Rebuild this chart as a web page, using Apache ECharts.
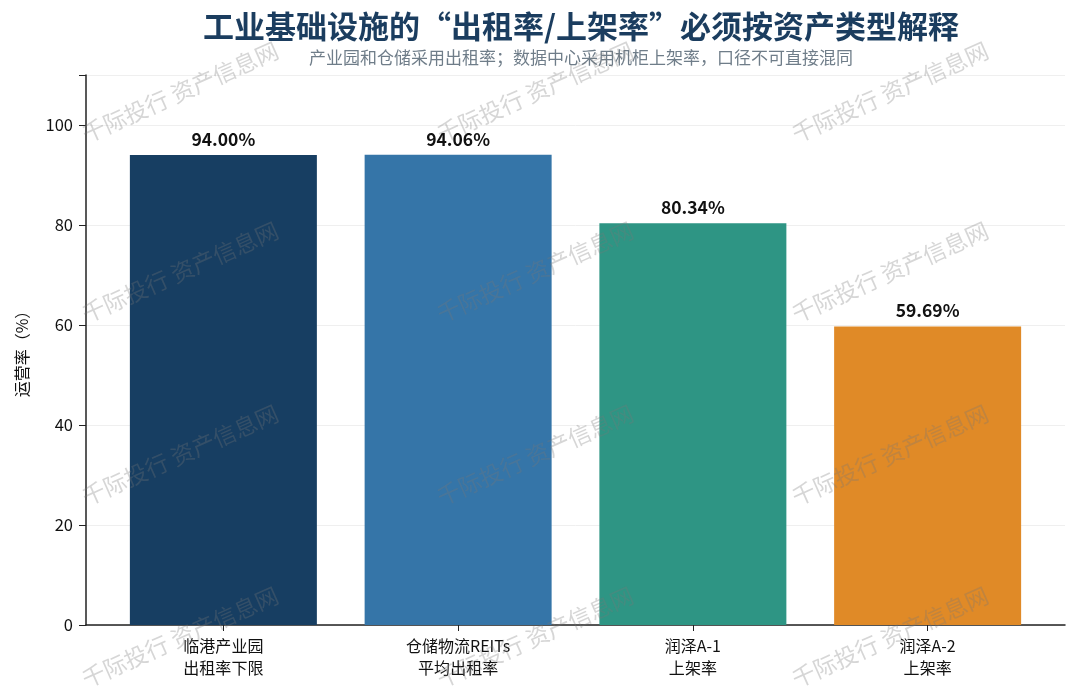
<!DOCTYPE html>
<html>
<head>
<meta charset="utf-8">
<script src="https://cdn.jsdelivr.net/npm/echarts@6/dist/echarts.min.js"></script>
<style>
  html, body { margin: 0; padding: 0; background: #fff; }
  #main { width: 1080px; height: 694px; }
</style>
</head>
<body>
<div id="main"></div>
<script>
// chart data
var categories = ['临港产业园\n出租率下限', '仓储物流REITs\n平均出租率', '润泽A-1\n上架率', '润泽A-2\n上架率'];
var rates = [94.00, 94.06, 80.34, 59.69];
var barColors = ['#173e62', '#3575a8', '#2e9584', '#e08a27'];
var yTicks = [0, 20, 40, 60, 80, 100];

var fontFamily = '"Noto Sans CJK SC", "Noto Sans", sans-serif';

var chart = echarts.init(document.getElementById('main'));

// watermark text, tiled
var marks = [];
var markCols = [180, 535, 890];
var markRows = [92, 272, 455, 637];
markRows.forEach(function (y) {
    markCols.forEach(function (x) {
        marks.push({
            type: 'text',
            x: x, y: y,
            rotation: Math.PI / 7.5,
            z: 100,
            style: {
                text: '千际投行 资产信息网',
                fill: 'rgba(120,120,120,0.3)',
                font: '23px ' + fontFamily,
                align: 'center',
                verticalAlign: 'middle'
            }
        });
    });
});

var option = {
    backgroundColor: '#ffffff',
    animation: false,
    title: {
        text: '工业基础设施的“出租率/上架率”必须按资产类型解释',
        subtext: '产业园和仓储采用出租率；数据中心采用机柜上架率，口径不可直接混同',
        left: 576,
        textAlign: 'center',
        top: 6,
        itemGap: 7,
        textStyle: { color: '#1b3d5f', fontSize: 31, fontWeight: 'bold', fontFamily: fontFamily },
        subtextStyle: { color: '#6f7d89', fontSize: 17, fontFamily: fontFamily }
    },
    graphic: marks,
    grid: [
        { left: 86, right: 15, top: 75, bottom: 69 },
        { left: 106, right: 35, top: 75, bottom: 69 }
    ],
    xAxis: [
        {
            type: 'value', gridIndex: 0, min: 0, max: 1,
            axisLine: { show: true, lineStyle: { color: '#222', width: 1.5 } },
            axisTick: { show: false }, axisLabel: { show: false }, splitLine: { show: false }
        },
        {
            type: 'category', gridIndex: 1, data: categories,
            axisLine: { show: false },
            axisTick: { show: true, alignWithLabel: true, length: 6, lineStyle: { color: '#222' } },
            axisLabel: { color: '#111', fontSize: 16, lineHeight: 22, margin: 10, fontFamily: fontFamily },
            splitLine: { show: false }
        }
    ],
    yAxis: [
        {
            type: 'value', gridIndex: 0, min: 0, max: 110, interval: 20,
            name: '运营率（%）', nameLocation: 'middle', nameGap: 56,
            nameTextStyle: { color: '#111', fontSize: 16, fontFamily: fontFamily },
            axisLine: { show: true, lineStyle: { color: '#222', width: 1.5 } },
            axisTick: { show: true, length: 7, lineStyle: { color: '#222' } },
            axisLabel: {
                color: '#111', fontSize: 16.5, margin: 13, fontFamily: fontFamily,
                formatter: function (v) { return yTicks.indexOf(v) >= 0 ? v : ''; }
            },
            splitLine: { show: true, lineStyle: { color: '#efefef', width: 1 } }
        },
        {
            type: 'value', gridIndex: 1, min: 0, max: 110, interval: 20, show: false,
            splitLine: { show: false }
        }
    ],
    series: [
        {
            type: 'bar',
            xAxisIndex: 1, yAxisIndex: 1,
            barWidth: 187,
            data: rates.map(function (v, i) {
                return { value: v, itemStyle: { color: barColors[i] } };
            }),
            label: {
                show: true, position: 'top', distance: 7,
                color: '#111', fontSize: 17.5, fontWeight: 'bold', fontFamily: fontFamily,
                formatter: function (p) { return p.value.toFixed(2) + '%'; }
            }
        }
    ]
};

chart.setOption(option);
</script>
</body>
</html>
